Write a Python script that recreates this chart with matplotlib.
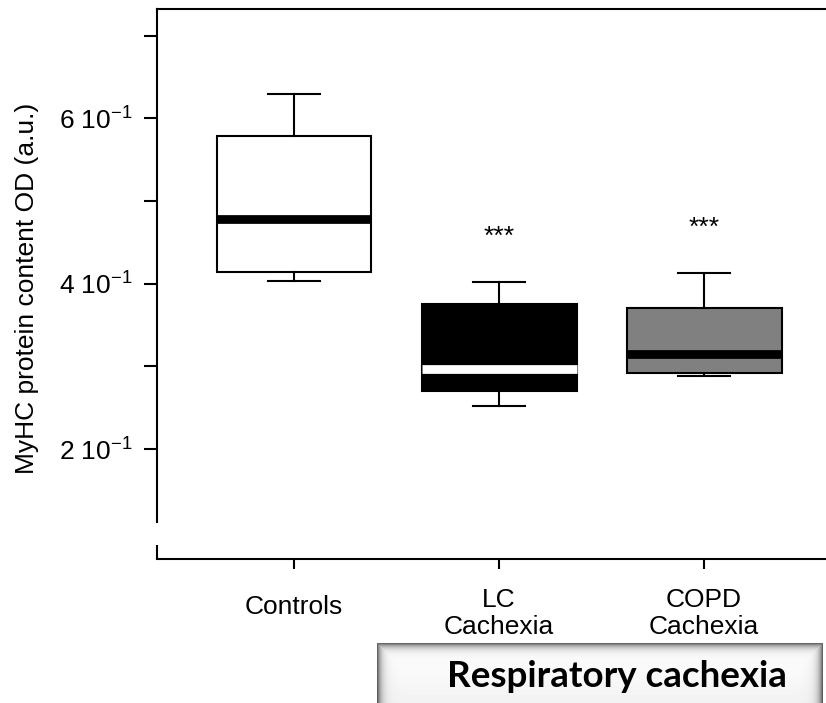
import numpy as np
import matplotlib
matplotlib.use("Agg")
import matplotlib.pyplot as plt
from matplotlib.transforms import ScaledTranslation

plt.rcParams['font.family'] = ['Liberation Sans', 'DejaVu Sans']
plt.rcParams['mathtext.default'] = 'regular'

# MyHC protein content per group (box summary values)
groups = ["Controls", "LC\nCachexia", "COPD\nCachexia"]
whis_hi = [0.629, 0.402, 0.413]
q3 = [0.578, 0.375, 0.370]
median = [0.478, 0.297, 0.315]
q1 = [0.414, 0.270, 0.292]
whis_lo = [0.403, 0.252, 0.288]
box_fill = ["white", "black", "#808080"]
median_col = ["black", "white", "black"]
signif = ["", "***", "***"]

yticks = [0.2, 0.3, 0.4, 0.5, 0.6, 0.7]
ytick_labels = ["2 10$^{-1}$", "", "4 10$^{-1}$", "", "6 10$^{-1}$", ""]

fig = plt.figure(figsize=(8.26, 7.03), dpi=100)
ax = fig.add_axes([157 / 826, 143.7 / 703, 669 / 826, 550.8 / 703])

pos = np.arange(1, len(groups) + 1)
stats = []
for i in range(len(groups)):
    stats.append(dict(med=median[i], q1=q1[i], q3=q3[i],
                      whislo=whis_lo[i], whishi=whis_hi[i], fliers=[]))

bp = ax.bxp(stats, positions=pos, widths=0.756, capwidths=0.254,
            patch_artist=True, showfliers=False,
            boxprops=dict(linewidth=1.5, edgecolor='black'),
            whiskerprops=dict(linewidth=1.5, color='black'),
            capprops=dict(linewidth=1.5, color='black'),
            medianprops=dict(linewidth=6.3, solid_capstyle='butt'))
for i, box in enumerate(bp['boxes']):
    box.set_facecolor(box_fill[i])
for i, med in enumerate(bp['medians']):
    med.set_color(median_col[i])

for i, s in enumerate(signif):
    if s:
        ax.text(pos[i], whis_hi[i] + 0.0465, s, ha='center', va='baseline',
                fontsize=19)

ax.set_xlim(0.3317, 3.595)
ax.set_ylim(0.0667, 0.7327)
ax.set_yticks(yticks)
ax.set_yticklabels(ytick_labels)
ax.set_xticks(pos)
ax.set_xticklabels(groups, fontsize=19, va='top', linespacing=1.15)
ax.tick_params(axis='y', direction='out', length=9.4, width=1.5,
               labelsize=19, pad=8)
ax.tick_params(axis='x', direction='out', length=7, width=1.5, pad=14)

# single-line label sits a little lower than the two-line ones
for lab in ax.get_xticklabels():
    if "\n" not in lab.get_text():
        lab.set_transform(lab.get_transform() +
                          ScaledTranslation(0, -0.07, fig.dpi_scale_trans))

ax.spines['right'].set_visible(False)
for sp in ['left', 'top', 'bottom']:
    ax.spines[sp].set_linewidth(1.5)
ax.spines['left'].set_bounds(0.1121, 0.7327)
ax.plot([0.3317, 0.3317], [0.0667, 0.084], color='black', lw=1.5,
        clip_on=False, solid_capstyle='butt')

ax.set_ylabel("MyHC protein content OD (a.u.)", fontsize=19)
ax.yaxis.set_label_coords(-0.1764, 0.4926)

# raised panel below the group labels
bax = fig.add_axes([377 / 826, 0, 446 / 826, 60 / 703])
h, w = 60, 446
yy, xx = np.mgrid[0:h, 0:w]
d = np.minimum(np.minimum(yy, xx), w - 1 - xx).astype(float)
shade = 1 - 0.6 * np.exp(-d / 4.0)
shade = shade - 0.05 * (yy / h)
bax.imshow(shade, cmap='gray', vmin=0, vmax=1, aspect='auto',
           interpolation='bilinear')
bax.axis('off')
fig.text(616.5 / 826, 16 / 703, "Respiratory cachexia", ha='center',
         va='baseline', fontsize=26.5, fontweight='bold', family='Lato')

fig.savefig("out.png", dpi=100)
